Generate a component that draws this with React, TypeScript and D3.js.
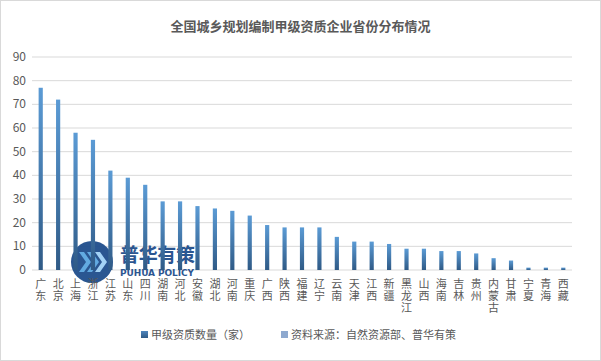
import React from "react";
import * as d3 from "d3";

const provinces = ["广东","北京","上海","浙江","江苏","山东","四川","湖南","河北","安徽","湖北","河南","重庆","广西","陕西","福建","辽宁","云南","天津","江西","新疆","黑龙江","山西","海南","吉林","贵州","内蒙古","甘肃","宁夏","青海","西藏"];
const counts = [77,72,58,55,42,39,36,29,29,27,26,25,23,19,18,18,18,14,12,12,11,9,9,8,8,7,5,4,1,1,1];
const yTicks = [0,10,20,30,40,50,60,70,80,90];
const title = "全国城乡规划编制甲级资质企业省份分布情况";
const legendLabels = ["甲级资质数量（家）", "资料来源：自然资源部、普华有策"];

const W = 601, H = 361;
const margin = { left: 32, right: 29, top: 57, bottom: 91 };

export default function App() {
  const x = d3.scaleBand<string>().domain(provinces).range([margin.left, W - margin.right]).paddingInner(0.76).paddingOuter(0.38);
  const y = d3.scaleLinear().domain([0, 90]).range([H - margin.bottom, margin.top]);
  const font = "'Microsoft YaHei','Noto Sans CJK SC','Noto Sans',sans-serif";
  const textColor = "#595959";
  return (
    <svg width={W} height={H} style={{ position: "absolute", left: 0, top: 0, background: "#fff" }} fontFamily={font}>
      <defs>
        <linearGradient id="barGrad" x1="0" y1="0" x2="0" y2="1">
          <stop offset="0%" stopColor="#5b9bd5" />
          <stop offset="100%" stopColor="#2f5a86" />
        </linearGradient>
        <linearGradient id="legGrad" x1="0" y1="0" x2="0" y2="1">
          <stop offset="0%" stopColor="#4f86be" />
          <stop offset="100%" stopColor="#2f5a86" />
        </linearGradient>
      </defs>
      <rect x={0.5} y={0.5} width={W - 1} height={H - 1} fill="#fff" stroke="#d9d9d9" />
      <text x={W / 2} y={31} textAnchor="middle" fontSize={13} fontWeight="bold" fill={textColor}>{title}</text>
      {yTicks.map(t => (
        <g key={t}>
          <line x1={margin.left} x2={W - margin.right} y1={y(t)} y2={y(t)} stroke="#d9d9d9" strokeWidth={1} />
          <text x={26} y={y(t) + 4} textAnchor="end" fontSize={12} fill={textColor}>{t}</text>
        </g>
      ))}
      {/* watermark logo */}
      <g opacity={0.95}>
        <circle cx={92} cy={262} r={21} fill="#1f4e8c" />
        {[0, 1, 2].map(i => (
          <path key={i} d={`M${79 + i * 8},${252} l7,10 l-7,10 h5 l7,-10 l-7,-10 z`} fill={i === 2 ? "#9fd0f5" : "#5aa6e0"} />
        ))}
        <text x={120} y={262} fontSize={19} fontWeight="bold" fill="#1f4e8c" textLength={75}>普华有策</text>
        <text x={120} y={276} fontSize={9} fontWeight="bold" fill="#1f4e8c" fontFamily="'DejaVu Sans',sans-serif" textLength={74}>PUHUA POLICY</text>
      </g>
      {provinces.map((p, i) => (
        <rect key={p} x={x(p)} y={y(counts[i])} width={x.bandwidth()} height={y(0) - y(counts[i])} fill="url(#barGrad)" />
      ))}
      {provinces.map(p => (
        <g key={p}>
          {Array.from(p).map((c, j) => (
            <text
              key={j}
              x={(x(p) ?? 0) + x.bandwidth() / 2}
              y={y(0) + 18 + j * 12}
              fontSize={11}
              fill={textColor}
              textAnchor="middle"
            >
              {c}
            </text>
          ))}
        </g>
      ))}
      <g>
        <rect x={141} y={331} width={7} height={7} fill="url(#legGrad)" />
        <text x={151} y={339} fontSize={11} fill={textColor}>{legendLabels[0]}</text>
        <rect x={281} y={331} width={7} height={7} fill="#8ea9cf" />
        <text x={291} y={339} fontSize={11} fill={textColor}>{legendLabels[1]}</text>
      </g>
    </svg>
  );
}
